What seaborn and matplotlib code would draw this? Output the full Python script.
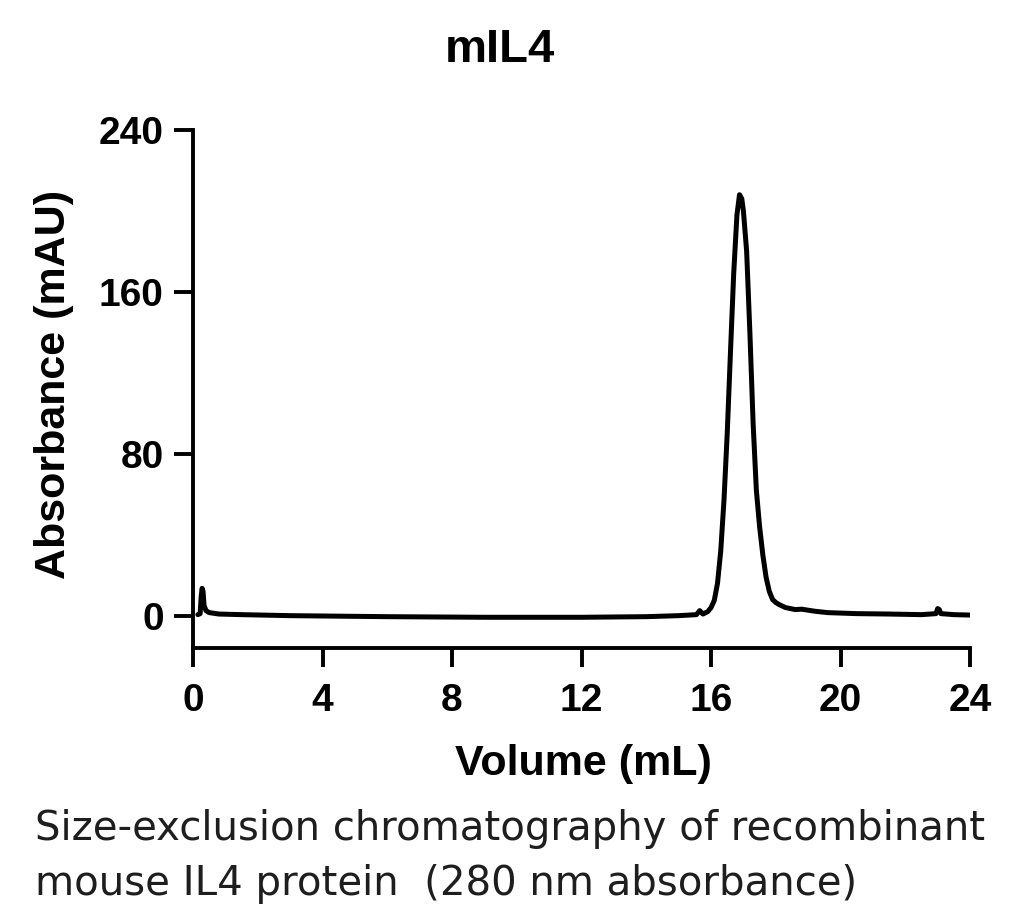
"""Size-exclusion chromatogram of recombinant mouse IL4."""

import matplotlib
matplotlib.use("Agg")
import matplotlib.pyplot as plt
import pandas as pd
import seaborn as sns

# Elution trace (volume in mL, absorbance in mAU)
volume = [
    0.15, 0.22, 0.25, 0.28, 0.31, 0.34, 0.40, 0.50, 0.80, 1.5, 3.0, 6.0, 9.0,
    12.0, 14.0, 15.0, 15.55, 15.65, 15.75, 15.9, 16.0, 16.1, 16.2, 16.3, 16.4,
    16.5, 16.6, 16.7, 16.8, 16.88, 16.95, 17.0, 17.1, 17.2, 17.3, 17.4, 17.5,
    17.6, 17.7, 17.8, 17.9, 18.0, 18.1, 18.3, 18.6, 18.8, 19.2, 19.6, 20.5,
    21.5, 22.5, 22.95, 23.0, 23.05, 23.1, 23.5, 24.0,
]
absorbance = [
    0.5, 1.0, 9.0, 13.5, 12.0, 5.0, 2.5, 1.5, 0.8, 0.5, 0.0, -0.5, -0.8,
    -0.8, -0.5, 0.0, 0.5, 2.5, 0.8, 2.0, 4.0, 7.5, 16.0, 32.0, 57.0,
    90.0, 130.0, 169.0, 198.0, 208.0, 206.0, 200.0, 180.0, 140.0, 95.0, 62.0, 44.0,
    30.0, 19.0, 12.0, 8.0, 6.5, 5.5, 4.0, 3.0, 3.2, 2.2, 1.5, 1.0,
    0.8, 0.5, 1.0, 3.5, 3.0, 1.0, 0.5, 0.3,
]

x_ticks = [0, 4, 8, 12, 16, 20, 24]
y_ticks = [0, 80, 160, 240]

title = "mIL4"
x_label = "Volume (mL)"
y_label = "Absorbance (mAU)"
caption = [
    "Size-exclusion chromatography of recombinant",
    "mouse IL4 protein  (280 nm absorbance)",
]

sns.set_style("ticks")
plt.rcParams["font.family"] = ["Liberation Sans", "DejaVu Sans"]

df = pd.DataFrame({"volume": volume, "absorbance": absorbance})

fig = plt.figure(figsize=(10.24, 9.23), dpi=100)
ax = fig.add_axes([0.1885, 0.2979, 0.7588, 0.5613])

sns.lineplot(data=df, x="volume", y="absorbance", color="black",
             linewidth=3.6, sort=False, ax=ax)

ax.set_xlim(0, 24)
ax.set_ylim(-16, 240)
ax.set_xticks(x_ticks)
ax.set_yticks(y_ticks)
ax.tick_params(axis="both", length=14, width=2.8, color="black",
               labelsize=28, labelcolor="black")
ax.tick_params(axis="x", pad=11)
ax.tick_params(axis="y", pad=7)
for lbl in ax.get_xticklabels() + ax.get_yticklabels():
    lbl.set_fontweight("bold")

for side in ["top", "right"]:
    ax.spines[side].set_visible(False)
for side in ["left", "bottom"]:
    ax.spines[side].set_linewidth(2.8)
    ax.spines[side].set_color("black")

ax.set_xlabel(x_label, fontsize=31, fontweight="bold", color="black")
ax.set_ylabel(y_label, fontsize=31, fontweight="bold", color="black")
ax.xaxis.set_label_coords(0.502, -0.185)
ax.yaxis.set_label_coords(-0.153, 0.508)

fig.text(500 / 1024, 1 - 62 / 923, title, ha="center", va="baseline",
         fontsize=34, fontweight="bold", color="black")

caption_font = ["DejaVu Sans"]
fig.text(35 / 1024, 1 - 840 / 923, caption[0], ha="left", va="baseline",
         fontsize=29, family=caption_font, color="#1e1e1e")
fig.text(35 / 1024, 1 - 895 / 923, caption[1], ha="left", va="baseline",
         fontsize=29, family=caption_font, color="#1e1e1e")

fig.savefig("out.png", dpi=100, facecolor="white")
plt.close(fig)
